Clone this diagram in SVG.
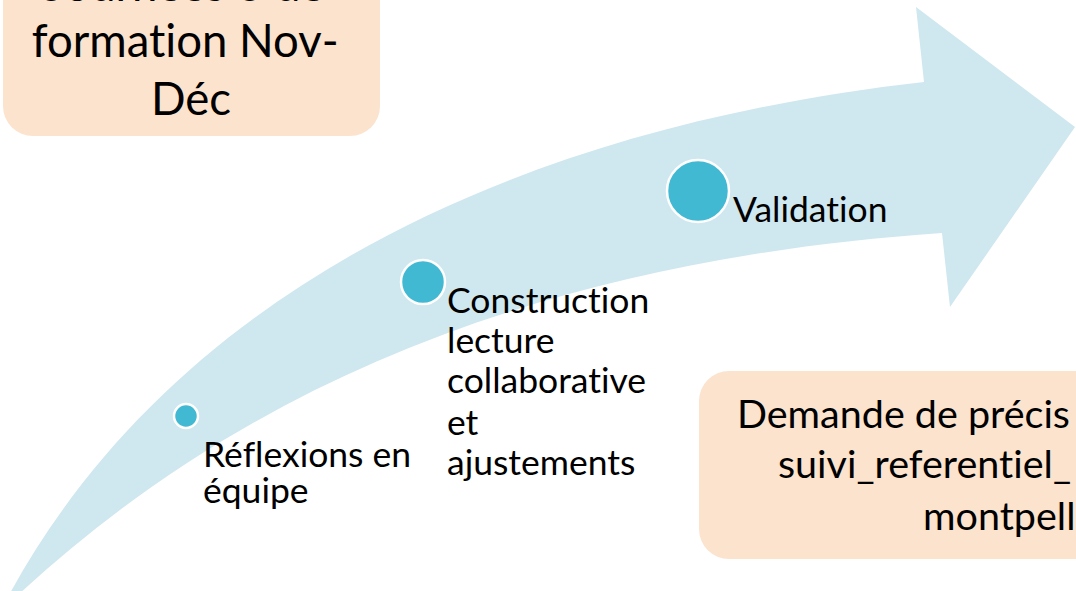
<svg xmlns="http://www.w3.org/2000/svg" width="1076" height="591" viewBox="0 0 1076 591">
<style>
  .box { fill: #FCE3CD; }
  .dot { fill: #42B9D3; stroke: #FFFFFF; stroke-width: 2.5; }
  .lbl { font-family: Lato, "Liberation Sans", sans-serif; fill: #000000; font-variant-ligatures: none; }
  .t36 { font-size: 35.5px; }
</style>
<rect width="1076" height="591" fill="#FFFFFF"/>
<g id="arrow">
  <path d="M 9 595 C 170 300 500 130 924 82 L 916 7 L 1075 127 L 950 307 L 942 233 C 550 260 250 380 18 595 Z" fill="#CFE7EF"/>
</g>
<g id="box-formation">
  <rect class="box" x="3" y="-60" width="377" height="196" rx="30" ry="30"/>
  <text class="lbl" font-size="45.5" text-anchor="middle">
    <tspan x="191" y="1">Journées 3 de</tspan>
    <tspan x="191" y="57">formation Nov-</tspan>
    <tspan x="191" y="115">Déc</tspan>
  </text>
</g>
<g id="box-demande">
  <rect class="box" x="699" y="371" width="420" height="188" rx="30" ry="30"/>
  <text class="lbl" font-size="39.5">
    <tspan x="737" y="428">Demande de précis</tspan>
    <tspan x="778" y="478">suivi_referentiel_</tspan>
    <tspan x="923" y="530">montpell</tspan>
  </text>
</g>
<g id="node-reflexions">
  <circle class="dot" cx="186" cy="416" r="12"/>
  <text class="lbl t36">
    <tspan x="203" y="467">Réflexions en</tspan>
    <tspan x="203" y="503">équipe</tspan>
  </text>
</g>
<g id="node-construction">
  <circle class="dot" cx="423" cy="282" r="22"/>
  <text class="lbl t36">
    <tspan x="447" y="313">Construction</tspan>
    <tspan x="447" y="353">lecture</tspan>
    <tspan x="447" y="393">collaborative</tspan>
    <tspan x="447" y="435">et</tspan>
    <tspan x="447" y="475">ajustements</tspan>
  </text>
</g>
<g id="node-validation">
  <circle class="dot" cx="698" cy="191" r="31"/>
  <text class="lbl t36">
    <tspan x="733" y="222">Validation</tspan>
  </text>
</g>
<g id="connectors"></g>
</svg>
